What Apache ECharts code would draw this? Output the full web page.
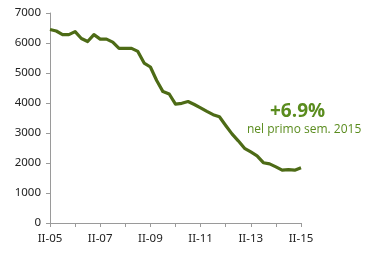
<!DOCTYPE html>
<html><head><meta charset="utf-8">
<script src="https://cdn.jsdelivr.net/npm/echarts@6/dist/echarts.min.js"></script>
<style>html,body{margin:0;padding:0;background:#fff}#c{width:370px;height:253px}</style>
</head><body><div id="c"></div>
<script>
const quarters = [];
const qNames = ['I','II','III','IV'];
for (let y = 5; y <= 15; y++) {
  for (let q = 0; q < 4; q++) {
    if ((y === 5 && q === 0) || (y === 15 && q > 1)) continue;
    quarters.push(qNames[q] + '-' + String(y).padStart(2, '0'));
  }
}
const values = [6450, 6400, 6280, 6280, 6380, 6150, 6050, 6280, 6130, 6130,
  6030, 5820, 5820, 5820, 5720, 5330, 5200, 4750, 4380, 4300,
  3960, 3990, 4050, 3950, 3840, 3720, 3610, 3540, 3250, 2970,
  2740, 2490, 2370, 2240, 2010, 1970, 1870, 1760, 1780, 1760, 1840];
const yTicks = [0, 1000, 2000, 3000, 4000, 5000, 6000, 7000];
const note1 = '+6.9%';
const note2 = 'nel primo sem. 2015';

const chart = echarts.init(document.getElementById('c'));
chart.setOption({
  animation: false,
  grid: {left: 50, right: 69, top: 13, bottom: 30, containLabel: false},
  xAxis: {
    type: 'category', data: quarters, boundaryGap: false,
    axisLine: {lineStyle: {color: '#9a9a9a', width: 1}},
    axisTick: {interval: 3, length: 4, lineStyle: {color: '#9a9a9a'}},
    axisLabel: {interval: 7, color: '#222', fontFamily: 'Noto Sans', fontSize: 11.5, margin: 10},
    splitLine: {show: false}
  },
  yAxis: {
    type: 'value', min: yTicks[0], max: yTicks[yTicks.length - 1], interval: 1000,
    axisLine: {show: true, lineStyle: {color: '#9a9a9a', width: 1}},
    axisTick: {show: true, length: 4, lineStyle: {color: '#9a9a9a'}},
    axisLabel: {color: '#222', fontFamily: 'Noto Sans', fontSize: 11.5, margin: 9, formatter: v => String(v)},
    splitLine: {show: false}
  },
  series: [{
    type: 'line', data: values, showSymbol: false,
    lineStyle: {color: '#4d6b16', width: 3.2, join: 'round'}
  }],
  graphic: [
    {type: 'text', left: 270, top: 102, style: {text: note1, fill: '#5a8c1e', font: 'bold 19px "Open Sans"'}},
    {type: 'text', left: 247, top: 124, style: {text: note2, fill: '#5a8c1e', font: '500 12px "Open Sans"'}}
  ]
});
</script></body></html>
